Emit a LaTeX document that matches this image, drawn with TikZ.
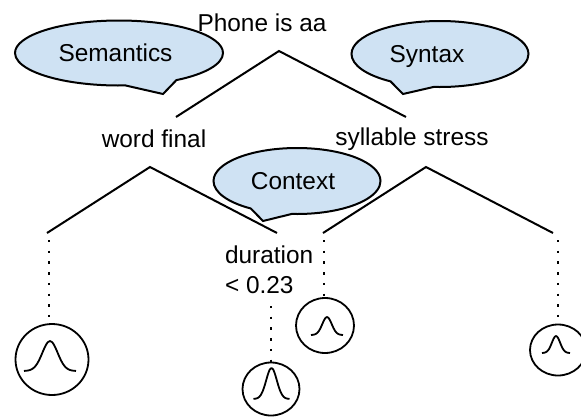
\documentclass[tikz,border=0pt]{standalone}
\usepackage{fontspec}
\setmainfont{Liberation Sans}
\usetikzlibrary{shapes}
\definecolor{bubblefill}{HTML}{CFE2F3}
\newcommand{\bump}[4]{\draw[bumpline,shift={(#1,#2)}] plot[smooth,domain=-1:1,samples=25] ({\x*#3},{-#4*exp(-(3.4*\x)*(3.4*\x)/2)});}
\begin{document}
\begin{tikzpicture}[x=1pt,y=-1pt,line width=2pt]
\tikzstyle{every node}=[font=\fontsize{24.4}{29}\selectfont,inner sep=0pt]
\tikzstyle{bubble}=[ellipse callout,draw,fill=bubblefill,line width=2pt,callout pointer arc=30,text depth=0pt]
\tikzstyle{leaf}=[ellipse,draw,line width=1.8pt]
\tikzstyle{bumpline}=[line width=1.8pt,line join=round]
\tikzstyle{dots}=[line width=2.4pt,dash pattern=on 2.4pt off 8.3pt]
\useasboundingbox (0,0) rectangle (581,416);

% tree branches
\coordinate (rootl) at (176,117);
\coordinate (root) at (279,51);
\coordinate (rootr) at (406,117);
\coordinate (wordl) at (47,233);
\coordinate (word) at (150,167);
\coordinate (wordr) at (277,233);
\coordinate (syll) at (323,233);
\coordinate (syl) at (426,167);
\coordinate (sylr) at (553,233);
\draw (rootl) -- (root) -- (rootr);
\draw (wordl) -- (word) -- (wordr);
\draw (syll) -- (syl) -- (sylr);

\node(Phone) at (262,23) {Phone is aa};
\node(Word) at (154,139) {word final};
\node(Stress) at (412,139) {syllable stress};
\node[align=left,anchor=north west](Duration) at (224,245) {duration\\[1pt]< 0.23};

\node[bubble,minimum width=208pt,minimum height=65pt,callout absolute pointer={(163,94)}](Semantics) at (119,53) {Semantics\kern7pt};
\node[bubble,minimum width=177pt,minimum height=66pt,callout absolute pointer={(403,94)}](Syntax) at (440,54) {Syntax\kern26pt};
\node[bubble,minimum width=167pt,minimum height=66pt,callout absolute pointer={(263,221)}](Context) at (297,181) {Context\kern8pt};

\node[leaf,minimum width=73pt,minimum height=71pt](GaussA) at (52,359.5) {};
\node[leaf,minimum width=57pt,minimum height=53pt](GaussB) at (271,389) {};
\node[leaf,minimum width=58pt,minimum height=55pt](GaussC) at (325,325.5) {};
\node[leaf,minimum width=56pt,minimum height=51pt](GaussD) at (558,350) {};

\coordinate (dota) at (49,240);
\coordinate (dotb) at (271,306);
\coordinate (dotc) at (324,240);
\coordinate (dotd) at (558,240);
\draw[dots] (dota) -- (dota |- GaussA.north);
\draw[dots] (dotb) -- (dotb |- GaussB.north);
\draw[dots] (dotc) -- (dotc |- GaussC.north);
\draw[dots] (dotd) -- (dotd |- GaussD.north);

\bump{50}{371}{26}{30}
\bump{271.5}{399}{18}{31}
\bump{327}{335}{16}{18}
\bump{556}{353}{14}{17}
\end{tikzpicture}
\end{document}
